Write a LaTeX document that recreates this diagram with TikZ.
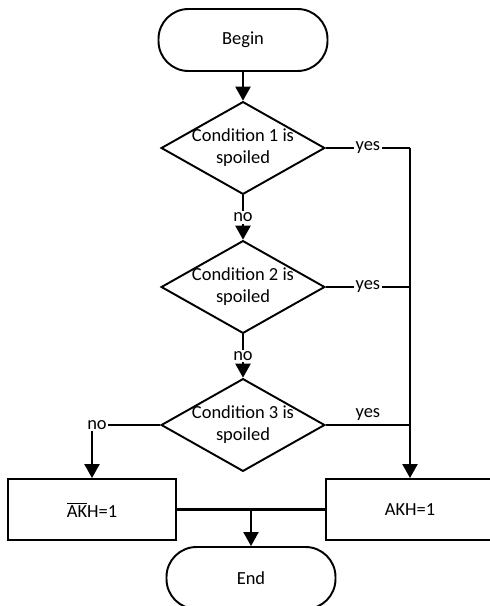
\documentclass[tikz,border=0pt]{standalone}
\usepackage{fontspec}
\setmainfont{Carlito}
\usetikzlibrary{shapes.geometric,arrows.meta}

\begin{document}
\begin{tikzpicture}[
            font=\fontsize{10.5}{12.5}\selectfont,
            terminal/.style={draw, line width=1.1pt, rounded corners=0.6cm, minimum width=3.38cm, minimum height=1.24cm},
            decision/.style={draw, diamond, aspect=1.766, line width=1.1pt, align=center, inner xsep=-0.05cm, inner ysep=0pt},
            block/.style={draw, line width=1.1pt, minimum width=3.36cm, minimum height=1.22cm},
            flow/.style={line width=1.3pt, -{Triangle[width=0.3cm,length=0.28cm]}},
            link/.style={line width=1.3pt},
            answer/.style={fill=white, inner sep=1pt}
        ]
            \useasboundingbox (0,0) rectangle (9.78,-12.12);
            \node[terminal] (begin) at (4.86, -0.80) {Begin};
            \node[decision] (c1) at (4.86, -2.96) {Condition 1 is\\spoiled};
            \node[decision] (c2) at (4.86, -5.74) {Condition 2 is\\spoiled};
            \node[decision] (c3) at (4.86, -8.50) {Condition 3 is\\spoiled};
            \node[block] (akhnot) at (1.84, -10.19) {$\overline{\hbox{AK}}$H=1};
            \node[block] (akh) at (8.20, -10.19) {AKH=1};
            \node[terminal] (end) at (5.02, -11.56) {End};
            \coordinate (join) at (5.02, -10.19);
            % main line
            \draw[flow] (begin) -- (c1);
            \draw[flow] (c1) -- node[answer] {no} (c2);
            \draw[flow] (c2) -- node[answer] {no} (c3);
            \draw[flow] (c3.west) -| node[answer, pos=0.5, xshift=0.1cm] {no} (akhnot.north);
            % yes branches
            \draw[link] (c1.east) -- node[answer] {yes} (8.20, -2.96);
            \draw[link] (c2.east) -- node[answer] {yes} (8.20, -5.74);
            \draw[link] (c3.east) -- node[above, inner sep=2pt] {yes} (8.20, -8.50);
            \draw[flow] (8.20, -2.96) -- (akh.north);
            % merge
            \draw[link] (akhnot.east) -- (akh.west);
            \draw[flow] (join) -- (end.north);
        \end{tikzpicture}
\end{document}
